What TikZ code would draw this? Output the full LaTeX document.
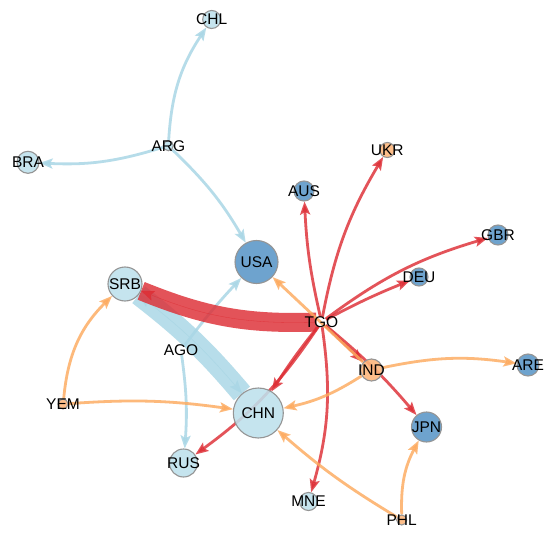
\documentclass[tikz,border=0pt]{standalone}
\usepackage{fontspec}
\setmainfont{Liberation Sans}
\usetikzlibrary{arrows.meta}
\pgfdeclarelayer{paper}
\pgfdeclarelayer{edges}
\pgfsetlayers{paper,edges,main}
\definecolor{nodeLB}{HTML}{BEE1EC}
\definecolor{nodeSB}{HTML}{5B97C8}
\definecolor{nodeOR}{HTML}{FDB67A}
\definecolor{ringgray}{HTML}{959595}
\definecolor{flowLB}{HTML}{AAD7E6}
\definecolor{flowRD}{HTML}{DE2E35}
\definecolor{flowOR}{HTML}{FDAA5E}
\tikzset{
  country/.style={circle, draw=ringgray, line width=1.1pt, fill opacity=0.88,
    inner sep=0pt, minimum size=#1},
  lb/.style={country=#1, fill=nodeLB},
  sb/.style={country=#1, fill=nodeSB},
  og/.style={country=#1, fill=nodeOR},
  hub/.style={circle, inner sep=0pt, minimum size=10pt},
  lbl/.style={font=\fontsize{15.5}{18}\selectfont, text=black, inner sep=0pt},
  tipshape/.style={-{Stealth[length=13pt,width=10pt,inset=2.5pt]}},
  flow/.style={line width=2.8pt, tipshape},
  lbflow/.style={flow, draw=flowLB, opacity=0.85},
  rdflow/.style={flow, draw=flowRD, opacity=0.82},
  orflow/.style={flow, draw=flowOR, opacity=0.82},
  band/.style={line width=#1, -}
}
\begin{document}
\begin{tikzpicture}[x=1pt,y=1pt]
\begin{pgfonlayer}{paper}
  \fill[white] (0,0) rectangle (545,-534);
\end{pgfonlayer}
\useasboundingbox (0,0) rectangle (545,-534);

% countries
\node[lb=18pt] (chl) at (211.7,-19.5) {};
\node[lb=10pt] (arg) at (168.3,-145.7) {};
\node[lb=22pt] (bra) at (28,-162.3) {};
\node[og=15pt] (ukr) at (387.3,-150) {};
\node[sb=20pt] (aus) at (304,-191) {};
\node[sb=20pt] (gbr) at (498,-235) {};
\node[sb=18pt] (deu) at (419,-277) {};
\node[sb=43pt] (usa) at (256.5,-262) {};
\node[lb=34pt] (srb) at (125,-284) {};
\node[hub] (tgo) at (321.5,-322) {};
\node[hub] (ago) at (181,-350) {};
\node[og=22pt] (ind) at (371.5,-370) {};
\node[sb=22pt] (are) at (528,-365) {};
\node[og=10pt] (yem) at (63,-404) {};
\node[lb=50pt] (chn) at (258.3,-413) {};
\node[sb=30pt] (jpn) at (426.5,-427) {};
\node[lb=28pt] (rus) at (183.5,-463) {};
\node[lb=18pt] (mne) at (308.5,-501.5) {};
\node[og=10pt] (phl) at (401.7,-520) {};

% country codes
\node[lbl] (chlT) at (chl) {CHL};
\node[lbl] (argT) at (arg) {ARG};
\node[lbl] (braT) at (bra) {BRA};
\node[lbl] (ukrT) at (ukr) {UKR};
\node[lbl] (ausT) at (aus) {AUS};
\node[lbl] (gbrT) at (gbr) {GBR};
\node[lbl] (deuT) at (deu) {DEU};
\node[lbl] (usaT) at (usa) {USA};
\node[lbl] (srbT) at (srb) {SRB};
\node[lbl] (tgoT) at (tgo) {TGO};
\node[lbl] (agoT) at (ago) {AGO};
\node[lbl] (indT) at (ind) {IND};
\node[lbl] (areT) at (are) {ARE};
\node[lbl] (yemT) at (yem) {YEM};
\node[lbl] (chnT) at (chn) {CHN};
\node[lbl] (jpnT) at (jpn) {JPN};
\node[lbl] (rusT) at (rus) {RUS};
\node[lbl] (mneT) at (mne) {MNE};
\node[lbl] (phlT) at (phl) {PHL};

\begin{pgfonlayer}{edges}
  % flows out of ARG and AGO
  \draw[lbflow] (arg) to[bend left=15] (chl);
  \draw[lbflow] (arg) to[bend left=10] (bra);
  \draw[lbflow] (arg) to[bend left=8] (usa);
  \draw[lbflow] (ago) to[bend left=3] (usa);
  \draw[lbflow] (ago) to[bend left=6] (rus);
  % heavy flows between SRB and CHN, sharing one broad band
  \draw[lbflow, band=21pt, opacity=0.6] (srb) to[bend left=6] (chn);
  \draw[lbflow, line width=0.3pt] (srb) to[bend left=6] (chn);
  \draw[lbflow, band=21pt, opacity=0.6] (chn) to[bend right=6] (srb);
  \draw[lbflow, line width=0.3pt] (chn) to[bend right=6] (srb);
  % flows out of TGO
  \draw[rdflow, band=19pt] (tgo) to[bend left=12] (srb);
  \draw[rdflow, line width=0.3pt] (tgo) to[bend left=12] (srb);
  \draw[rdflow] (tgo) to[bend left=5] (aus);
  \draw[rdflow] (tgo) to[bend left=10] (ukr);
  \draw[rdflow] (tgo) to[bend left=10] (gbr);
  \draw[rdflow] (tgo) to[bend left=3] (deu);
  \draw[rdflow] (tgo) to (ind);
  \draw[rdflow] (tgo) to[bend left=5] (jpn);
  \draw[rdflow] (tgo) to[bend right=3] (chn);
  \draw[rdflow] (tgo) to[bend left=10] (rus);
  \draw[rdflow] (tgo) to[bend left=12] (mne);
  % flows out of IND, YEM and PHL
  \draw[orflow] (ind) to (usa);
  \draw[orflow] (ind) to[bend left=10] (chn);
  \draw[orflow] (ind) to[bend left=10] (are);
  \draw[orflow] (yem) to[bend left=20] (srb);
  \draw[orflow] (yem) to[bend left=6] (chn);
  \draw[orflow] (phl) to[bend left=5] (chn);
  \draw[orflow] (phl) to[bend left=15] (jpn);
\end{pgfonlayer}
\end{tikzpicture}
\end{document}
